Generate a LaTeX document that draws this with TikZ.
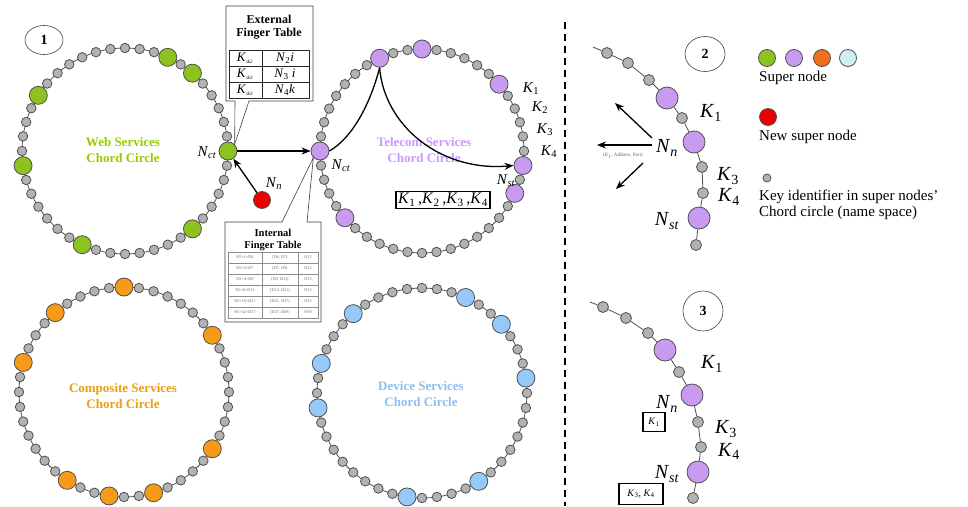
\documentclass[tikz,border=0pt]{standalone}
\usepackage{fontspec}
\setmainfont{Liberation Serif}
\usetikzlibrary{arrows.meta,shapes.geometric}
\definecolor{ringgray}{RGB}{80,80,80}
\definecolor{keyfill}{RGB}{178,178,178}
\definecolor{webgreen}{RGB}{140,195,30}
\definecolor{telpurple}{RGB}{200,155,240}
\definecolor{comporange}{RGB}{245,155,25}
\definecolor{devblue}{RGB}{150,200,250}
\definecolor{legorange}{RGB}{240,110,30}
\definecolor{legcyan}{RGB}{205,240,245}
\definecolor{newred}{RGB}{235,0,0}
\definecolor{webtext}{RGB}{153,204,0}
\definecolor{teltext}{RGB}{204,153,255}
\definecolor{comptext}{RGB}{232,160,20}
\definecolor{devtext}{RGB}{140,190,240}
\newcommand\fsz[1]{\fontsize{#1}{#1}\selectfont}
\newcommand\ksb[2]{\textit{#1}\textsubscript{#2}}
\newcommand\chordring[6]{%
  \draw[ringline] (#2,#3) circle[radius=#4];
  \foreach \i in {0,...,43}{\node[keynode] (#1k\i) at ({#2+#4*cos(\i*360/44)},{#3-#4*sin(\i*360/44)}) {};}
  \foreach \i in {#6}{\node[supernode,fill=#5] (#1s\i) at ({#2+#4*cos(\i*360/44)},{#3-#4*sin(\i*360/44)}) {};}
}
\begin{document}
\begin{tikzpicture}[x=1pt,y=-1pt,
  keynode/.style={circle,draw=ringgray,fill=keyfill,line width=0.8pt,minimum size=9.5pt,inner sep=0pt},
  supernode/.style={circle,draw=ringgray,line width=0.8pt,minimum size=18pt,inner sep=0pt},
  pkey/.style={keynode,minimum size=11pt},
  psuper/.style={supernode,fill=telpurple,minimum size=22pt},
  ringline/.style={draw=ringgray,line width=0.8pt},
  ringlabel/.style={font=\bfseries\fontsize{13}{16}\selectfont,align=center},
  numcirc/.style={ellipse,draw=black!75,line width=0.6pt,font=\bfseries\fsz{14},inner sep=0pt},
  rlab/.style={font=\fsz{15},inner sep=0pt},
  plab/.style={font=\fsz{20},inner sep=0pt},
  leg/.style={font=\fsz{15},anchor=west,inner sep=0pt},
  arr/.style={-{Stealth[length=9pt,width=7pt]},line width=1.3pt},
  callout/.style={draw=black!75,fill=white,line width=0.6pt},
  fttitle/.style={font=\bfseries\fontsize{12}{13}\selectfont,align=center},
  ifttitle/.style={font=\bfseries\fontsize{10.5}{11.5}\selectfont,align=center},
  tabline/.style={draw=black!85,line width=0.9pt},
  itab/.style={draw=black!45,line width=0.5pt},
  cell/.style={font=\fsz{13},inner sep=0pt},
  icell/.style={font=\fsz{4.2},text=black!60,inner sep=0pt},
  kbox/.style={draw=black,line width=1.2pt,inner sep=2pt}]
\useasboundingbox (0,0) rectangle (968,506);
\fill[white] (0,0) rectangle (968,506);

% number circles
\node[numcirc,minimum width=38pt,minimum height=29pt] (num1) at (44,40) {1};
\node[numcirc,minimum width=40pt,minimum height=35pt] (num2) at (705,54) {2};
\node[numcirc,minimum width=40pt,minimum height=40pt] (num3) at (703,311) {3};

% rings
\chordring{ra}{125}{151}{103}{webgreen}{0,6,8,18,23,30,38}
\chordring{rb}{422}{151}{102}{telpurple}{5,11,14,22,27,41,43}
\chordring{rc}{124}{392}{105}{comporange}{4,11,16,20,29,32,35,40}
\chordring{rd}{422}{393}{105}{devblue}{1,5,8,16,20,23,32,37}

\node[ringlabel,text=webtext] (webl) at (123,150) {Web Services\\Chord Circle};
\node[ringlabel,text=teltext] (tell) at (424,150) {Telecom Services\\Chord Circle};
\node[ringlabel,text=comptext] (compl) at (123,396) {Composite Services\\Chord Circle};
\node[ringlabel,text=devtext] (devl) at (421,394) {Device Services\\Chord Circle};

% new node and arrows in panel 1
\node[supernode,fill=newred,minimum size=17pt] (nnew) at (262,200) {};
\draw[arr] (ras0.east) -- (rbs22.west);
\draw[arr] (nnew) -- (ras0);
\draw[line width=1.3pt] (rbs22.east) .. controls (352,138) and (370,105) .. (rbs14.south);
\draw[arr] (rbs14.south) .. controls (384,125) and (440,172) .. (rbs43.west);

\node[rlab] (lct1) at (207,153) {\textit{N}\textsubscript{\textit{ct}}};
\node[rlab] (lnn) at (274,184) {\textit{N}\textsubscript{\textit{n}}};
\node[rlab] (lct2) at (341,166) {\textit{N}\textsubscript{\textit{ct}}};
\node[rlab] (lk1) at (531,89) {\ksb{K}{1}};
\node[rlab] (lk2) at (540,108) {\ksb{K}{2}};
\node[rlab] (lk3) at (545,130) {\ksb{K}{3}};
\node[rlab] (lk4) at (549,152) {\ksb{K}{4}};
\node[rlab] (lst) at (506,181) {\textit{N}\textsubscript{\textit{st}}};
\node[kbox,font=\fsz{16}] (kall) at (443,200) {\ksb{K}{1}\,,\ksb{K}{2}\,,\ksb{K}{3}\,,\ksb{K}{4}};

% external finger table
\draw[callout] (226,6) -- (313,6) -- (313,101) -- (249,101) -- (ras0.north east) -- (235,101) -- (226,101) -- cycle;
\node[fttitle] (eftt) at (269,27) {External\\Finger Table};
\draw[tabline] (229,50) rectangle (309,98);
\draw[tabline] (262,50) -- (262,98) (229,66) -- (309,66) (229,82) -- (309,82);
\node[cell] (e11) at (245,58) {\textit{K}\textsubscript{\fsz{5}\textit{sk2}}};
\node[cell] (e21) at (245,74) {\textit{K}\textsubscript{\fsz{5}\textit{sk3}}};
\node[cell] (e31) at (245,90) {\textit{K}\textsubscript{\fsz{5}\textit{sk3}}};
\node[cell] (e12) at (285,58) {\textit{N}\textsubscript{2}\textit{i}};
\node[cell] (e22) at (285,74) {\textit{N}\textsubscript{3}\textit{ i}};
\node[cell] (e32) at (285,90) {\textit{N}\textsubscript{4}\textit{k}};

% internal finger table
\draw[callout] (225,222) -- (282,222) -- (rbs22.south west) -- (307,222) -- (321,222) -- (321,322) -- (225,322) -- cycle;
\node[ifttitle] (iftt) at (273,240) {Internal\\Finger Table};
\draw[itab] (228,252) rectangle (318,318);
\draw[itab] (262,252) -- (262,318) (298,252) -- (298,318);
\foreach \r in {1,...,5}{\draw[itab] (228,{252+11*\r}) -- (318,{252+11*\r});}
\foreach \a/\b/\c [count=\r] in {N5+1=D6/{[D6, D7)}/N15,N5+2=D7/{[D7, D9)}/N15,N5+4=D9/{[D9, D13)}/N15,N5+8=D13/{[D13, D21)}/N15,N5+16=D21/{[D21, D37)}/N25,N5+32=D37/{[D37, D69)}/N39}{
  \node[icell] (ia\r) at (245,{246.5+11*\r}) {\a};
  \node[icell] (ib\r) at (280,{246.5+11*\r}) {\b};
  \node[icell] (ic\r) at (308,{246.5+11*\r}) {\c};
}

% separator
\draw[line width=2pt,dash pattern=on 7pt off 5pt] (565,22) -- (565,506);

% panel 2
\coordinate (p2s) at (593,47);
\node[pkey] (p2a) at (607,53) {};
\node[pkey] (p2b) at (628,63) {};
\node[pkey] (p2c) at (649,80) {};
\node[psuper] (p2d) at (667,98) {};
\node[pkey] (p2e) at (682,118) {};
\node[psuper] (p2f) at (694,142) {};
\node[pkey] (p2g) at (702,167) {};
\node[pkey] (p2h) at (703,193) {};
\node[psuper] (p2i) at (699,218) {};
\node[pkey] (p2j) at (696,245) {};
\draw[ringline] (p2s) -- (p2a) -- (p2b) -- (p2c) -- (p2d) -- (p2e) -- (p2f) -- (p2g) -- (p2h) -- (p2i) -- (p2j);
\node[plab] (p2k1) at (711,113) {\ksb{K}{1}};
\node[plab] (p2nn) at (667,148) {\textit{N}\textsubscript{\textit{n}}};
\node[plab] (p2k3) at (728,176) {\ksb{K}{3}};
\node[plab] (p2k4) at (729,197) {\ksb{K}{4}};
\node[plab] (p2nst) at (667,221) {\textit{N}\textsubscript{\textit{st}}};
\coordinate (a1o) at (652,138); \coordinate (a1e) at (615,103);
\coordinate (a2o) at (652,145); \coordinate (a2e) at (597,145);
\coordinate (a3o) at (643,163); \coordinate (a3e) at (616,189);
\draw[arr] (a1o) -- (a1e);
\draw[arr] (a2o) -- (a2e);
\draw[arr] (a3o) -- (a3e);
\node[font=\fsz{5},text=black!60,inner sep=0pt] (p2msg) at (623,156) {(\textit{K}\textsubscript{1}, Address, Port)};

% legend
\node[supernode,fill=webgreen,minimum size=17pt] (lg1) at (767,58) {};
\node[supernode,fill=telpurple,minimum size=17pt] (lg2) at (794,58) {};
\node[supernode,fill=legorange,minimum size=17pt] (lg3) at (822,58) {};
\node[supernode,fill=legcyan,minimum size=17pt] (lg4) at (848,58) {};
\node[leg] (lgt1) at (759,78) {Super node};
\node[supernode,fill=newred,minimum size=17pt] (lg5) at (768,117) {};
\node[leg] (lgt2) at (759,137) {New super node};
\node[keynode,minimum size=8pt] (lg6) at (767,178) {};
\node[leg] (lgt3) at (759,197) {Key identifier in super nodes'};
\node[leg] (lgt4) at (759,213) {Chord circle (name space)};

% panel 3
\coordinate (p3s) at (590,302);
\node[pkey] (p3a) at (603,307) {};
\node[pkey] (p3b) at (626,318) {};
\node[pkey] (p3c) at (648,333) {};
\node[psuper] (p3d) at (665,350) {};
\node[pkey] (p3e) at (679,372) {};
\node[psuper] (p3f) at (692,395) {};
\node[pkey] (p3g) at (698,422) {};
\node[pkey] (p3h) at (701,447) {};
\node[psuper] (p3i) at (698,472) {};
\node[pkey] (p3j) at (693,498) {};
\draw[ringline] (p3s) -- (p3a) -- (p3b) -- (p3c) -- (p3d) -- (p3e) -- (p3f) -- (p3g) -- (p3h) -- (p3i) -- (p3j);
\node[plab] (p3k1) at (712,364) {\ksb{K}{1}};
\node[plab] (p3nn) at (667,404) {\textit{N}\textsubscript{\textit{n}}};
\node[plab] (p3k3) at (726,429) {\ksb{K}{3}};
\node[plab] (p3k4) at (729,451) {\ksb{K}{4}};
\node[plab] (p3nst) at (667,474) {\textit{N}\textsubscript{\textit{st}}};
\node[kbox,font=\fsz{10},minimum width=22pt,minimum height=19pt,inner sep=1pt] (p3b1) at (654,422) {\ksb{K}{1}};
\node[kbox,font=\fsz{10},minimum width=44pt,minimum height=21pt,inner sep=1pt] (p3b2) at (641,494) {\ksb{K}{3}, \ksb{K}{4}};
\end{tikzpicture}
\end{document}
